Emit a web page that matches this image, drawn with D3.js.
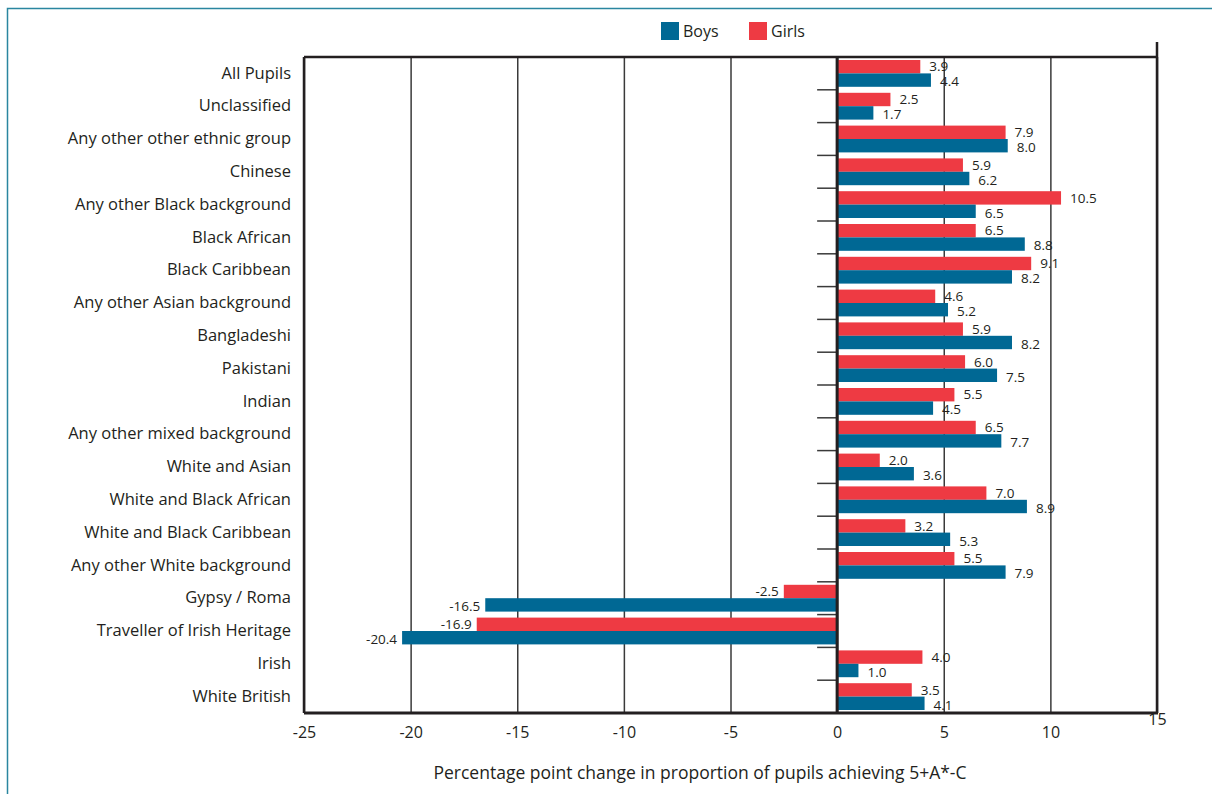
<!DOCTYPE html>
<html>
<head>
<meta charset="utf-8">
<script src="https://cdn.jsdelivr.net/npm/d3@7"></script>
<style>
  body { margin: 0; background: #fff; }
  svg text { font-family: "Open Sans", "Noto Sans", sans-serif; fill: #231f20; }
</style>
</head>
<body>
<div id="app"></div>
<script>
// data
var categories = ["All Pupils", "Unclassified", "Any other other ethnic group", "Chinese",
  "Any other Black background", "Black African", "Black Caribbean", "Any other Asian background",
  "Bangladeshi", "Pakistani", "Indian", "Any other mixed background", "White and Asian",
  "White and Black African", "White and Black Caribbean", "Any other White background",
  "Gypsy / Roma", "Traveller of Irish Heritage", "Irish", "White British"];
var girls = [3.9, 2.5, 7.9, 5.9, 10.5, 6.5, 9.1, 4.6, 5.9, 6.0, 5.5, 6.5, 2.0, 7.0, 3.2, 5.5, -2.5, -16.9, 4.0, 3.5];
var boys  = [4.4, 1.7, 8.0, 6.2, 6.5, 8.8, 8.2, 5.2, 8.2, 7.5, 4.5, 7.7, 3.6, 8.9, 5.3, 7.9, -16.5, -20.4, 1.0, 4.1];
var xTicks = [-25, -20, -15, -10, -5, 0, 5, 10, 15];
var seriesNames = ["Boys", "Girls"];

var svgWidth = 1212, svgHeight = 794;
var margin = { top: 57, right: 55, bottom: 81, left: 304 };
var planeWidth = svgWidth - margin.left - margin.right;
var planeHeight = svgHeight - margin.top - margin.bottom;

var blue = "#006894", red = "#ee3a43", ink = "#231f20";

var svg = d3.select('#app')
  .append("svg")
  .attr("width", svgWidth)
  .attr("height", svgHeight);

// outer page frame
svg.append("path")
  .attr("d", "M7.5," + svgHeight + "V8.5H" + svgWidth)
  .attr("fill", "none")
  .attr("stroke", "#2a86a0")
  .attr("stroke-width", 1.5);

var g = svg.append("g").attr("transform", "translate(" + margin.left + "," + margin.top + ")");

var x = d3.scaleLinear().domain([-25, 15]).range([0, planeWidth]);
var y = d3.scaleBand().domain(categories).range([0, planeHeight]);
var barH = 13.4;
var fmt = function(v) { return d3.format(".1f")(v).replace("\u2212", "-"); };

// grid + bottom axis
var xAxis = g.append("g")
  .attr("class", "x-axis")
  .attr("transform", "translate(0," + planeHeight + ")")
  .call(d3.axisBottom(x).tickValues(xTicks).tickSize(-planeHeight).tickPadding(14)
    .tickFormat(function(d) { return String(d); }));
xAxis.select(".domain").remove();
xAxis.selectAll(".tick line")
  .attr("stroke", "#3a3a3a")
  .attr("stroke-width", 1.5);
xAxis.selectAll(".tick text")
  .style("font-size", "16px")
  .attr("fill", ink);
xAxis.selectAll(".tick").filter(function(d) { return d === 15; }).select("text")
  .attr("dy", "-0.1em");

// ticks on the zero line between the groups
g.append("g").selectAll("line")
  .data(categories.slice(1))
  .enter().append("line")
  .attr("x1", x(0) - 20)
  .attr("x2", x(0))
  .attr("y1", function(d) { return y(d); })
  .attr("y2", function(d) { return y(d); })
  .attr("stroke", "#3a3a3a")
  .attr("stroke-width", 1.5);

// bars
var rows = categories.map(function(c, i) { return { name: c, girls: girls[i], boys: boys[i] }; });
var barGroup = g.append("g");
function barY(d, k) { return y(d.name) + (y.bandwidth() - 2 * barH) / 2 + k * barH; }

barGroup.selectAll("rect.girls")
  .data(rows).enter().append("rect")
  .attr("class", "girls")
  .attr("x", function(d) { return x(Math.min(0, d.girls)); })
  .attr("width", function(d) { return Math.abs(x(d.girls) - x(0)); })
  .attr("y", function(d) { return barY(d, 0); })
  .attr("height", barH)
  .attr("fill", red);

barGroup.selectAll("rect.boys")
  .data(rows).enter().append("rect")
  .attr("class", "boys")
  .attr("x", function(d) { return x(Math.min(0, d.boys)); })
  .attr("width", function(d) { return Math.abs(x(d.boys) - x(0)); })
  .attr("y", function(d) { return barY(d, 1); })
  .attr("height", barH)
  .attr("fill", blue);

// value labels
[["girls", 0, 0], ["boys", 1, 1.5]].forEach(function(s) {
  barGroup.selectAll("text." + s[0])
    .data(rows).enter().append("text")
    .attr("class", s[0])
    .attr("x", function(d) { return d[s[0]] < 0 ? x(d[s[0]]) - 5 : x(d[s[0]]) + 9; })
    .attr("y", function(d) { return barY(d, s[1]) + barH / 2 + s[2]; })
    .attr("dy", "0.35em")
    .attr("text-anchor", function(d) { return d[s[0]] < 0 ? "end" : "start"; })
    .style("font-size", "13.5px")
    .text(function(d) { return fmt(d[s[0]]); });
});

// frame lines
g.append("line").attr("x1", x(0)).attr("x2", x(0)).attr("y1", 0).attr("y2", planeHeight)
  .attr("stroke", "#231f20").attr("stroke-width", 3);
g.append("line").attr("x1", 0).attr("x2", 0).attr("y1", 0).attr("y2", planeHeight)
  .attr("stroke", "#231f20").attr("stroke-width", 2.5);
g.append("line").attr("x1", 0).attr("x2", planeWidth + 1).attr("y1", 0).attr("y2", 0)
  .attr("stroke", "#231f20").attr("stroke-width", 2.5);
g.append("line").attr("x1", 0).attr("x2", planeWidth + 1).attr("y1", planeHeight).attr("y2", planeHeight)
  .attr("stroke", "#231f20").attr("stroke-width", 3);
g.append("line").attr("x1", planeWidth).attr("x2", planeWidth).attr("y1", -15).attr("y2", planeHeight)
  .attr("stroke", "#231f20").attr("stroke-width", 2.5);

// category labels
var yAxis = g.append("g")
  .attr("class", "y-axis")
  .call(d3.axisLeft(y).tickSize(0).tickPadding(13));
yAxis.select(".domain").remove();
yAxis.selectAll(".tick text")
  .style("font-size", "16.5px")
  .attr("fill", ink);

// axis title
svg.append("text")
  .attr("x", 700)
  .attr("y", 779)
  .attr("text-anchor", "middle")
  .style("font-size", "17.5px")
  .text("Percentage point change in proportion of pupils achieving 5+A*-C");

// legend
var legend = svg.append("g").attr("transform", "translate(661,22)");
var li = legend.selectAll("g").data(seriesNames).enter().append("g")
  .attr("transform", function(d, i) { return "translate(" + (i * 88) + ",0)"; });
li.append("rect").attr("width", 18).attr("height", 18)
  .attr("fill", function(d) { return d === "Boys" ? blue : red; });
li.append("text").attr("x", 22).attr("y", 9).attr("dy", "0.35em")
  .style("font-size", "16px")
  .text(function(d) { return d; });
</script>
</body>
</html>
